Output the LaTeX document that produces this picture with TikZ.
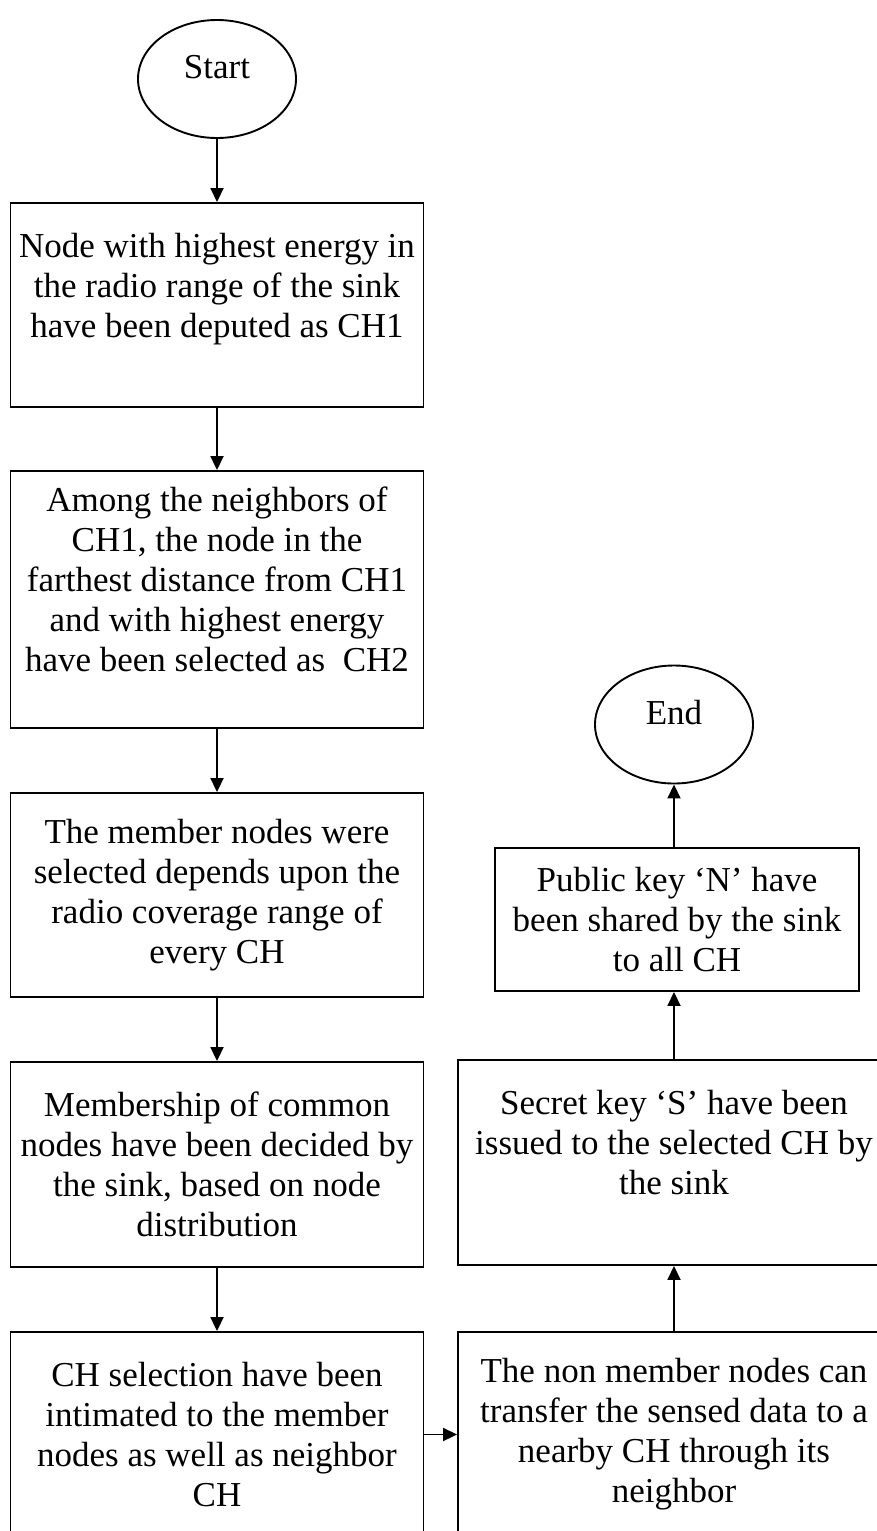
\documentclass[tikz,border=0pt]{standalone}
\usepackage{fontspec}
\setmainfont{Liberation Serif}
\usetikzlibrary{shapes.geometric, arrows.meta}
\tikzstyle{term}    = [ellipse, draw, line width=1.9pt, minimum width=158pt, minimum height=118pt,
                       text depth=25pt, font=\fontsize{35}{40}\selectfont]
\tikzstyle{stepbox} = [rectangle, draw, line width=1.9pt, align=center, inner sep=1pt,
                       font=\fontsize{35}{40}\selectfont]
\tikzstyle{arrow}   = [line width=1.8pt,->,>={Triangle[length=14pt,width=13pt]}]

\begin{document}
\begin{tikzpicture}[x=1pt, y=-1pt]
  \useasboundingbox (0,0) rectangle (877,1531);
  \clip (0,0) rectangle (877,1531);

  % left column
  \node [term] (start) at (217,79) {Start};
  \node [stepbox, minimum width=413pt, minimum height=204pt] (chone) at (217,305)
        {Node with highest energy in\\the radio range of the sink\\have been deputed as CH1\\~};
  \node [stepbox, minimum width=413pt, minimum height=257pt] (chtwo) at (217,599.5)
        {Among the neighbors of\\CH1, the node in the\\farthest distance from CH1\\and with highest energy\\have been selected as\ \ CH2\\~};
  \node [stepbox, minimum width=413pt, minimum height=204pt] (members) at (217,895)
        {The member nodes were\\selected depends upon the\\radio coverage range of\\every CH};
  \node [stepbox, minimum width=413pt, minimum height=205pt] (common) at (217,1164.5)
        {Membership of common\\nodes have been decided by\\the sink, based on node\\distribution};
  \node [stepbox, minimum width=413pt, minimum height=205pt] (intimate) at (217,1434.5)
        {CH selection have been\\intimated to the member\\nodes as well as neighbor\\CH};

  % right column
  \node [stepbox, minimum width=432pt, minimum height=205pt] (nonmember) at (674,1434.5)
        {The non member nodes can\\transfer the sensed data to a\\nearby CH through its\\neighbor};
  \node [stepbox, minimum width=432pt, minimum height=205pt] (secret) at (674,1162.5)
        {Secret key `S' have been\\issued to the selected CH by\\the sink\\~};
  \node [stepbox, minimum width=364pt, minimum height=143pt] (public) at (677,919.5)
        {Public key `N' have\\been shared by the sink\\to all CH};
  \node [term] (end) at (674,724.5) {End};

  % flow
  \draw [arrow] (start) -- (chone);
  \draw [arrow] (chone) -- (chtwo);
  \draw [arrow] (chtwo) -- (members);
  \draw [arrow] (members) -- (common);
  \draw [arrow] (common) -- (intimate);
  \draw [arrow] (intimate) -- (nonmember);
  \draw [arrow] (nonmember) -- (secret);
  \draw [arrow] (secret.north) -- (secret.north |- public.south);
  \draw [arrow] (end.south |- public.north) -- (end.south);
\end{tikzpicture}
\end{document}
